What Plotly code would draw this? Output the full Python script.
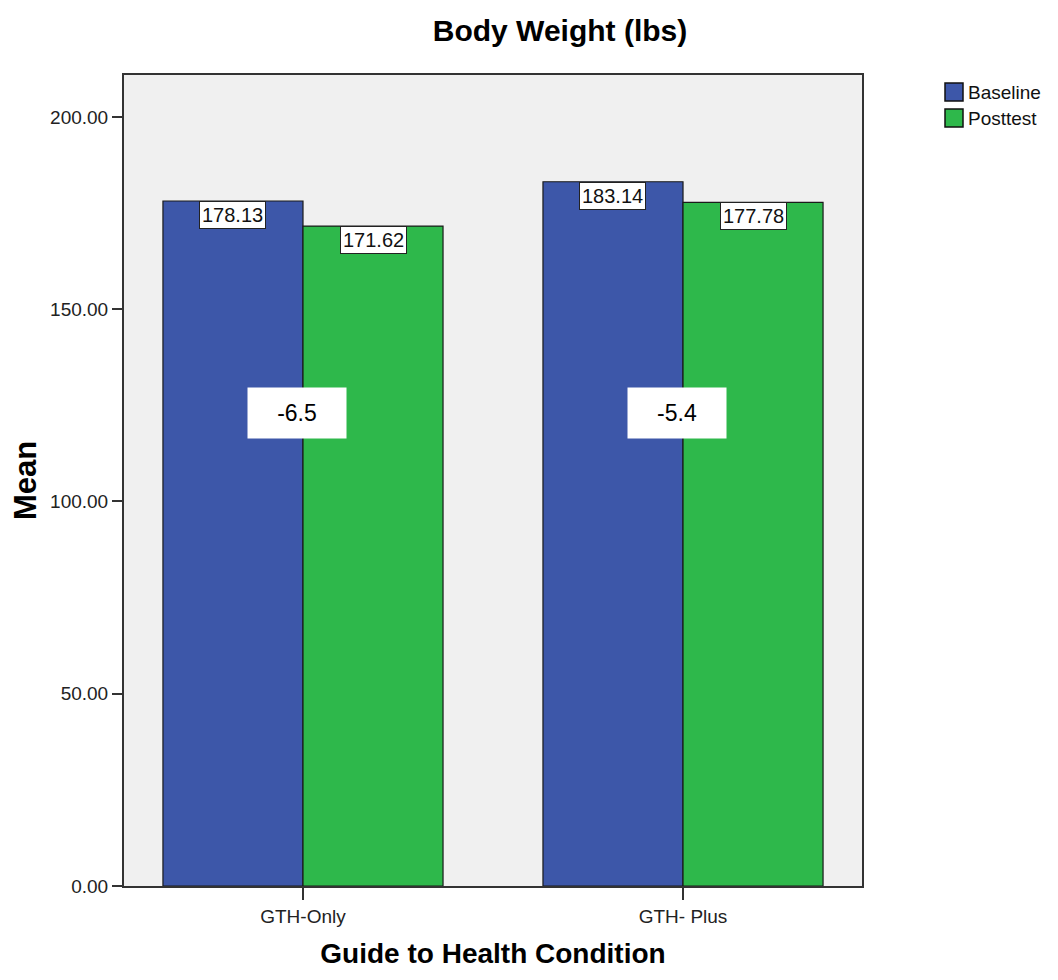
import plotly.graph_objects as go

categories = ["GTH-Only", "GTH- Plus"]
baseline = [178.13, 183.14]
posttest = [171.62, 177.78]
change = [-6.5, -5.4]
series_names = ["Baseline", "Posttest"]
y_ticks = [0, 50, 100, 150, 200]

BLUE = "#3D57A9"
GREEN = "#2EB84B"
COLORS = [BLUE, GREEN]
FONT = "Arial, Liberation Sans, sans-serif"

OFF = 8  # page body margin
W, H = 1058 - OFF, 980 - OFF
L, R, T, B = 124 - OFF, 196, 75 - OFF, 94
PW, PH = W - L - R, H - T - B

bargap = 0.263
fig = go.Figure()
for name, vals, col in zip(series_names, [baseline, posttest], COLORS):
    fig.add_trace(go.Bar(name=name, x=categories, y=vals, showlegend=False,
                         marker=dict(color=col, line=dict(color="#1a1a1a", width=1.2))))

annotations = []
shapes = []
bw = (1 - bargap) / 2
for i in range(len(categories)):
    for j, vals in enumerate([baseline, posttest]):
        xc = i - bw / 2 + j * bw
        annotations.append(dict(x=xc, y=vals[i], xref="x", yref="y", text=f"{vals[i]:.2f}",
                                showarrow=False, yanchor="top", xanchor="center",
                                font=dict(family=FONT, size=20, color="#111"),
                                bgcolor="white", bordercolor="#222", borderwidth=1, borderpad=2))
    annotations.append(dict(x=i, y=123, xref="x", yref="y", text=f"{change[i]:.1f}", showarrow=False,
                            xanchor="center", yanchor="middle", xshift=-6, width=98, height=50,
                            align="center", bgcolor="white", borderpad=0,
                            font=dict(family=FONT, size=23, color="black")))

# custom legend (larger keys, as in the reference); page pixel positions
def px_x(p):
    return (p - OFF - L) / PW

def px_y(p):
    return 1 - (p - OFF - T) / PH

for k, (name, col) in enumerate(zip(series_names, COLORS)):
    top = 83 + k * 26
    shapes.append(dict(type="rect", xref="paper", yref="paper",
                       x0=px_x(945), x1=px_x(963), y0=px_y(top + 18), y1=px_y(top),
                       fillcolor=col, line=dict(color="#111", width=1.5)))
    annotations.append(dict(x=px_x(966), y=px_y(top + 9), xref="paper", yref="paper", text=name,
                            showarrow=False, xanchor="left", yanchor="middle",
                            font=dict(family=FONT, size=19, color="#111")))

fig.update_layout(
    width=W, height=H,
    margin=dict(l=L, r=R, t=T, b=B, autoexpand=False),
    paper_bgcolor="white", plot_bgcolor="#F0F0F0",
    barmode="group", bargap=bargap, bargroupgap=0,
    title=dict(text="<b>Body Weight (lbs)</b>", x=(560 - OFF) / W, xanchor="center",
               y=1 - (30 - OFF) / H, yanchor="middle",
               font=dict(family=FONT, size=30, color="black")),
    font=dict(family=FONT, size=19, color="#222"),
    annotations=annotations,
    shapes=shapes,
    showlegend=False,
)
fig.update_xaxes(range=[-0.471, 1.471], showline=True, linecolor="#333", linewidth=2, mirror=True,
                 ticks="outside", ticklen=12, tickcolor="#333", tickwidth=2, automargin=False,
                 tickfont=dict(family=FONT, size=19, color="#222"),
                 title=dict(text="<b>Guide to Health Condition</b>", font=dict(family=FONT, size=28, color="black"), standoff=18))
fig.update_yaxes(range=[0, 210.9], tickvals=y_ticks, tickformat=".2f", showgrid=False, zeroline=False,
                 showline=True, linecolor="#333", linewidth=2, mirror=True, automargin=False,
                 ticks="outside", ticklen=10, tickcolor="#333", tickwidth=2,
                 tickfont=dict(family=FONT, size=19, color="#222"),
                 title=dict(text="<b>Mean</b>", font=dict(family=FONT, size=31, color="black"), standoff=4))

fig.write_html("out.html")
